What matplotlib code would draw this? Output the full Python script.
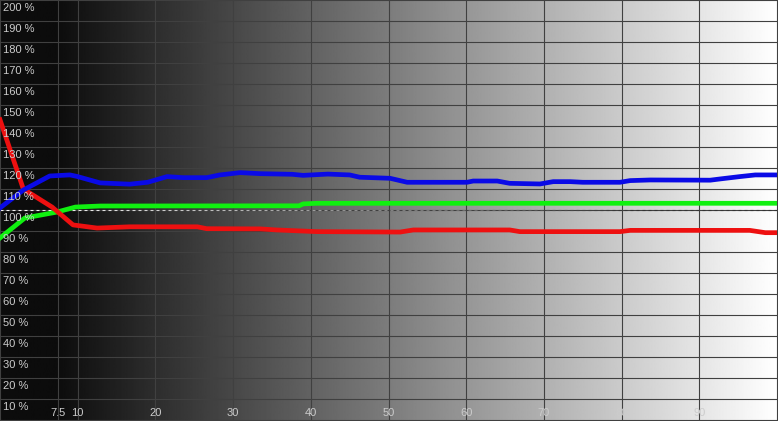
import matplotlib.pyplot as plt
import numpy as np
from matplotlib.collections import LineCollection

# balance RGB par niveau de gris
red_x = [0, 3, 6.7, 9.4, 12.5, 16.7, 25.4, 26.6, 33.5, 35.6, 40.8, 51.5, 53.2,
         65.6, 66.9, 79.8, 81.1, 96.5, 98.5, 100]
red_y = [143, 110, 101.4, 92.9, 91.4, 92, 92, 91.1, 91, 90.5, 89.7, 89.5, 90.5,
         90.5, 89.7, 89.7, 90.3, 90.3, 89.2, 89.2]

blue_x = [0, 3, 6.4, 9, 9.9, 12.9, 16.7, 19, 21.5, 23.6, 26.6, 28.3, 30.9, 33.5,
          37.6, 39, 42.2, 45, 46.3, 50.2, 52.4, 60.1, 60.9, 64, 65.6, 69.5, 71.2,
          73.4, 75, 79.8, 81.1, 83.7, 91.4, 92.7, 95.2, 97.2, 100]
blue_y = [101, 109.5, 116.2, 116.7, 116, 112.9, 112.3, 113.2, 115.9, 115.4, 115.4,
          116.7, 117.8, 117.3, 117, 116.5, 117.1, 116.7, 115.6, 115.1, 113.2, 113.2,
          113.8, 113.8, 112.7, 112.4, 113.5, 113.5, 113.2, 113.2, 114, 114.3, 114.2,
          114.8, 115.9, 116.7, 116.7]

green_x = [0, 3.2, 7.3, 9.7, 12.9, 38.5, 39, 40.8, 100]
green_y = [86.7, 96.2, 99, 101.4, 101.9, 102, 102.9, 103.2, 103.2]

x_ticks = [7.5, 10, 20, 30, 40, 50, 60, 70, 80, 90]
x_labels = ['7.5', '10', '20', '30', '40', '50', '60', '70', '80', '90']
y_ticks = list(range(10, 201, 10))
y_labels = [f'{v} %' for v in y_ticks]

plt.rcParams['font.family'] = ['Liberation Sans', 'DejaVu Sans']

fig = plt.figure(figsize=(7.78, 4.21), dpi=100)
ax = fig.add_axes([0, 1 / 421, 777 / 778, 420 / 421])
ax.set_xlim(0, 100)
ax.set_ylim(0, 200)

# fond en dégradé noir -> blanc
xs = np.linspace(0, 100, 800)
grad = 0.05 + 0.95 * np.clip((xs - 7.5) / 92.5, 0, 1)
ax.imshow(grad[np.newaxis, :], extent=[0, 100, 0, 200], aspect='auto',
          cmap='gray', vmin=0, vmax=1, zorder=0)

# grille
for t in x_ticks:
    ax.axvline(t, color='#404040', lw=0.8, zorder=1)
for t in y_ticks[:-1]:
    ax.axhline(t, color='#404040', lw=0.8, zorder=1)

# ligne 100 % en pointillés, couleur inverse du fond
period = 6 / 7.77
starts = np.arange(0, 100, period)
segs = [[(s, 100), (s + period / 2, 100)] for s in starts]
bg = 0.05 + 0.95 * np.clip((starts - 7.5) / 92.5, 0, 1)
inv = np.clip(1 - bg, 0.2, 0.95)
cols = [(c, c, c) for c in inv]
ax.add_collection(LineCollection(segs, colors=cols, lw=0.8, zorder=2))

ax.plot(green_x, green_y, color='#10f010', lw=3.4, zorder=3, solid_joinstyle='round')
ax.plot(red_x, red_y, color='#ee1010', lw=3.4, zorder=4, solid_joinstyle='round')
ax.plot(blue_x, blue_y, color='#0a0ae6', lw=3.4, zorder=5, solid_joinstyle='round')

# étiquettes à l'intérieur du graphique
for v, lab in zip(y_ticks, y_labels):
    ax.annotate(lab, xy=(0, v), xytext=(2, -2.3), textcoords='offset points',
                ha='left', va='top', color='#cccccc', fontsize=8, zorder=6)
for t, lab in zip(x_ticks, x_labels):
    ax.annotate(lab, xy=(t, 0), xytext=(0, 3.2), textcoords='offset points',
                ha='center', va='baseline', color='#cccccc', fontsize=8, zorder=6)

ax.set_xticks([])
ax.set_yticks([])
for s in ax.spines.values():
    s.set_color('#404040')
    s.set_linewidth(0.8)

fig.savefig('out.png', dpi=100)
